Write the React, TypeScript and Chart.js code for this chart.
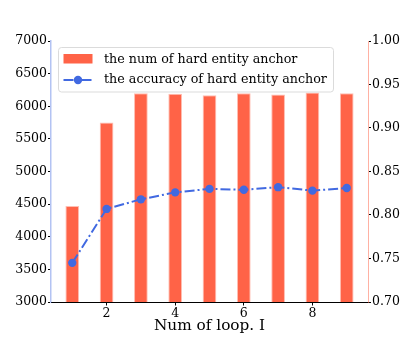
import React, { useEffect, useRef } from "react";
import { Chart, registerables } from "chart.js";

Chart.register(...registerables);

const loops = [1, 2, 3, 4, 5, 6, 7, 8, 9];
const hardAnchorCount = [4470, 5750, 6200, 6190, 6170, 6200, 6180, 6210, 6200];
const hardAnchorAccuracy = [0.745, 0.807, 0.818, 0.826, 0.830, 0.829, 0.832, 0.828, 0.831];
const xTicks = [2, 4, 6, 8];
const barLabel = "the num of hard entity anchor";
const lineLabel = "the accuracy of hard entity anchor";
const xTitle = "Num of loop. I";

const FONT = "'DejaVu Serif', serif";
const BAR_COLOR = "#FF6347";
const LINE_COLOR = "#4169E1";

const legendPlugin = {
  id: "customLegend",
  afterDraw(chart: any) {
    const ctx = chart.ctx;
    const x0 = 58.5, y0 = 47.5, w = 275, h = 44.5, r = 3;
    ctx.save();
    ctx.beginPath();
    ctx.moveTo(x0 + r, y0);
    ctx.lineTo(x0 + w - r, y0);
    ctx.quadraticCurveTo(x0 + w, y0, x0 + w, y0 + r);
    ctx.lineTo(x0 + w, y0 + h - r);
    ctx.quadraticCurveTo(x0 + w, y0 + h, x0 + w - r, y0 + h);
    ctx.lineTo(x0 + r, y0 + h);
    ctx.quadraticCurveTo(x0, y0 + h, x0, y0 + h - r);
    ctx.lineTo(x0, y0 + r);
    ctx.quadraticCurveTo(x0, y0, x0 + r, y0);
    ctx.closePath();
    ctx.fillStyle = "rgba(255,255,255,0.8)";
    ctx.fill();
    ctx.strokeStyle = "rgba(215,215,215,0.9)";
    ctx.lineWidth = 1;
    ctx.stroke();

    // bar entry
    ctx.fillStyle = BAR_COLOR;
    ctx.fillRect(63.5, 54, 29, 9.5);
    // line entry
    ctx.strokeStyle = LINE_COLOR;
    ctx.lineWidth = 2;
    ctx.setLineDash([10, 3, 2, 3]);
    ctx.beginPath();
    ctx.moveTo(63.5, 80);
    ctx.lineTo(92.5, 80);
    ctx.stroke();
    ctx.setLineDash([]);
    ctx.fillStyle = LINE_COLOR;
    ctx.beginPath();
    ctx.arc(78, 80, 4.2, 0, Math.PI * 2);
    ctx.fill();

    ctx.fillStyle = "#000";
    ctx.font = `12.7px ${FONT}`;
    ctx.textBaseline = "middle";
    ctx.textAlign = "left";
    ctx.fillText(barLabel, 104, 60);
    ctx.fillText(lineLabel, 104, 80);
    ctx.restore();
  },
};

export default function App() {
  const ref = useRef<HTMLCanvasElement | null>(null);
  useEffect(() => {
    if (!ref.current) return;
    const chart = new Chart(ref.current, {
      type: "bar",
      data: {
        datasets: [
          {
            type: "line",
            label: lineLabel,
            data: loops.map((x, i) => ({ x, y: hardAnchorAccuracy[i] })),
            yAxisID: "y1",
            xAxisID: "x",
            borderColor: LINE_COLOR,
            backgroundColor: LINE_COLOR,
            borderWidth: 2,
            borderDash: [10, 3, 2, 3],
            pointRadius: 4.2,
            pointBorderWidth: 0,
            pointBackgroundColor: LINE_COLOR,
            tension: 0,
            order: 0,
          } as any,
          {
            type: "bar",
            label: barLabel,
            data: loops.map((x, i) => ({ x, y: hardAnchorCount[i] })),
            yAxisID: "y",
            xAxisID: "x",
            backgroundColor: BAR_COLOR,
            borderColor: "rgba(255,190,178,1)",
            borderWidth: 1,
            barPercentage: 0.4,
            categoryPercentage: 1,
            order: 1,
          } as any,
        ],
      },
      options: {
        animation: false,
        responsive: false,
        maintainAspectRatio: false,
        layout: { padding: { top: 41, left: 0, right: 0, bottom: 0 } },
        plugins: { legend: { display: false }, tooltip: { enabled: false } },
        scales: {
          x: {
            type: "linear",
            min: 0.38,
            max: 9.62,
            offset: false,
            grid: {
              display: true,
              drawOnChartArea: false,
              offset: false,
              tickLength: 3.5,
              tickColor: "#000",
            },
            border: { display: true, color: "#000", width: 1 },
            afterBuildTicks: (scale: any) => {
              scale.ticks = xTicks.map((v) => ({ value: v }));
            },
            afterFit: (scale: any) => {
              scale.height = 38;
            },
            ticks: {
              color: "#000",
              font: { family: FONT, size: 12.5 },
              padding: 1,
              maxRotation: 0,
              autoSkip: false,
              callback: (v: any) => String(v),
            },
            title: {
              display: true,
              text: xTitle,
              color: "#000",
              font: { family: FONT, size: 15.3 },
              padding: { top: 0, bottom: 5 },
            },
          },
          y: {
            type: "linear",
            position: "left",
            min: 3000,
            max: 7000,
            grid: {
              display: true,
              drawOnChartArea: false,
              tickLength: 3,
              tickColor: "#000",
            },
            border: { display: true, color: "rgba(65,105,225,0.4)", width: 1.5 },
            ticks: {
              stepSize: 500,
              color: "#000",
              font: { family: FONT, size: 12.5 },
              padding: 1,
              callback: (v: any) => String(Math.round(Number(v))),
            },
            afterFit: (scale: any) => {
              scale.width = 51;
            },
          },
          y1: {
            type: "linear",
            position: "right",
            min: 0.7,
            max: 1.0,
            grid: {
              display: true,
              drawOnChartArea: false,
              tickLength: 3,
              tickColor: "#000",
            },
            border: { display: true, color: "rgba(255,99,71,0.5)", width: 1 },
            ticks: {
              stepSize: 0.05,
              color: "#000",
              font: { family: FONT, size: 12.5 },
              padding: 1,
              callback: (v: any) => Number(v).toFixed(2),
            },
            afterFit: (scale: any) => {
              scale.width = 40;
            },
          },
        },
      },
      plugins: [legendPlugin],
    });
    return () => chart.destroy();
  }, []);
  return (
    <div style={{ position: "fixed", left: 0, top: 0, width: 408, height: 340, background: "#fff" }}>
      <canvas ref={ref} width={408} height={340} style={{ width: 408, height: 340 }} />
    </div>
  );
}
